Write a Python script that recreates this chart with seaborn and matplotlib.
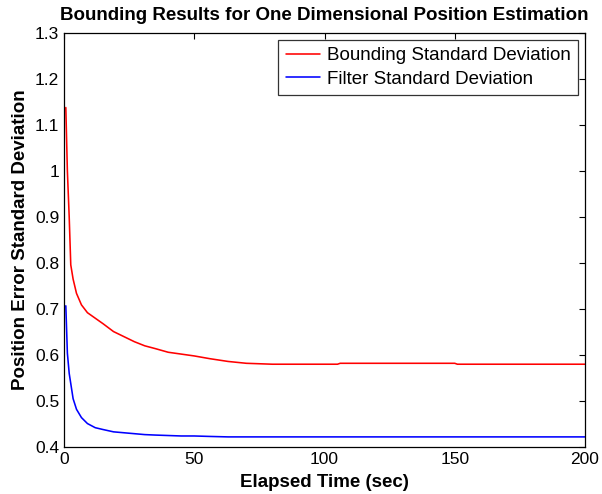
import pandas as pd
import matplotlib
import matplotlib.pyplot as plt
import seaborn as sns

matplotlib.use("Agg")

# Values
time_sec = [0.7, 1.3, 2.0, 2.6, 3.5, 4.8, 6.7, 9, 12, 15, 19, 23, 27, 31, 35, 40,
            45, 50, 56, 63, 70, 80, 90, 105, 106, 150, 151, 200]
bounding_std = [1.138, 1.0, 0.9, 0.796, 0.765, 0.734, 0.709, 0.692, 0.680, 0.668,
                0.651, 0.640, 0.629, 0.620, 0.614, 0.606, 0.602, 0.598, 0.592,
                0.586, 0.582, 0.580, 0.580, 0.580, 0.582, 0.582, 0.580, 0.580]
filter_std = [0.707, 0.604, 0.56, 0.538, 0.505, 0.482, 0.464, 0.451, 0.442, 0.438,
              0.433, 0.431, 0.429, 0.427, 0.426, 0.425, 0.424, 0.424, 0.423,
              0.422, 0.422, 0.422, 0.422, 0.422, 0.422, 0.422, 0.422, 0.422]
series_names = ["Bounding Standard Deviation", "Filter Standard Deviation"]
series_colors = ["#ff0000", "#0000ff"]

df = pd.concat([
    pd.DataFrame({"t": time_sec, "std": bounding_std, "series": series_names[0]}),
    pd.DataFrame({"t": time_sec, "std": filter_std, "series": series_names[1]}),
])

sns.set_style("white")
plt.rcParams["font.family"] = ["Liberation Sans", "DejaVu Sans"]
plt.rcParams["text.color"] = "black"
plt.rcParams["axes.labelcolor"] = "black"

fig = plt.figure(figsize=(6.02, 4.94), dpi=100)
ax = fig.add_axes([0.1063, 0.0951, 0.8655, 0.8381])

sns.lineplot(data=df, x="t", y="std", hue="series", hue_order=series_names,
             palette=series_colors, linewidth=1.15, ax=ax, sort=False)

ax.set_xlim(0, 200)
ax.set_ylim(0.4, 1.3)
ax.set_xticks([0, 50, 100, 150, 200])
ax.set_yticks([0.4, 0.5, 0.6, 0.7, 0.8, 0.9, 1.0, 1.1, 1.2, 1.3])
ax.set_yticklabels(["0.4", "0.5", "0.6", "0.7", "0.8", "0.9", "1", "1.1", "1.2", "1.3"])
ax.tick_params(direction="in", length=4, width=0.8, labelsize=12.5,
               top=True, right=True, colors="black")
for side in ax.spines.values():
    side.set_color("black")
    side.set_linewidth(0.9)

ax.set_title("Bounding Results for One Dimensional Position Estimation",
             fontsize=13.5, fontweight="bold", pad=9)
ax.set_xlabel("Elapsed Time (sec)", fontsize=13.5, fontweight="bold", labelpad=5)
ax.set_ylabel("Position Error Standard Deviation", fontsize=13.5, fontweight="bold", labelpad=4)

leg = ax.legend(loc="upper right", fontsize=13.5, frameon=True, fancybox=False,
                edgecolor="black", borderaxespad=0.35, handlelength=1.8,
                handletextpad=0.4, borderpad=0.4, labelspacing=0.35)
leg.get_frame().set_linewidth(0.9)
for txt in leg.get_texts():
    txt.set_color("black")

fig.savefig("out.png", dpi=100)
